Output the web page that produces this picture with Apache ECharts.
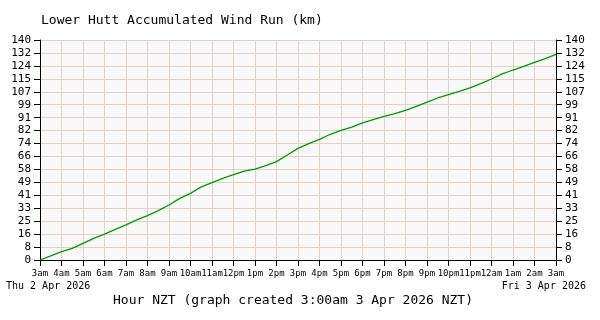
<!DOCTYPE html>
<html>
<head>
<meta charset="utf-8">
<script src="https://cdn.jsdelivr.net/npm/echarts@6/dist/echarts.min.js"></script>
<style>html,body{margin:0;padding:0;background:#fff}#c{width:600px;height:320px}</style>
</head>
<body>
<div id="c"></div>
<script>
var hourLabels = ['3am','4am','5am','6am','7am','8am','9am','10am','11am','12pm','1pm','2pm','3pm','4pm','5pm','6pm','7pm','8pm','9pm','10pm','11pm','12am','1am','2am','3am'];
var hours = [0,0.5,1,1.5,2,2.5,3,3.5,4,4.5,5,5.5,6,6.5,7,7.5,8,8.5,9,9.5,10,10.5,11,11.5,12,12.5,13,13.5,14,14.5,15,15.5,16,16.5,17,17.5,18,18.5,19,19.5,20,20.5,21,21.5,22,22.5,23,23.5,24];
var windRun = [0,2.6,5.3,7.4,10.6,13.8,16.5,19.5,22.3,25.5,28.2,31.4,35.0,39.2,42.4,46.5,49.2,52.0,54.3,56.6,57.9,60.0,62.6,66.8,71.0,74.0,76.8,80.0,82.5,84.6,87.2,89.3,91.4,93.1,95.2,97.8,100.5,103.1,105.2,107.3,109.5,112.2,115.2,118.4,120.9,123.2,125.8,128.1,130.8];
var yMax = 140;
var ySteps = 17;

var FONT = 'DejaVu Sans Mono';
var seriesData = hours.map(function(h, i){ return [h, windRun[i]]; });

function yAxisDef(pos) {
  return {
    type: 'value', position: pos, min: 0, max: yMax, interval: yMax / ySteps,
    axisLine: {show: true, lineStyle: {color: '#000', width: 1}},
    axisTick: {show: true, inside: false, length: 6, lineStyle: {color: '#000', width: 1}},
    axisLabel: {color: '#000', fontFamily: FONT, fontSize: 11, margin: 9,
      formatter: function(v){ return String(Math.round(v)); }},
    splitLine: {show: pos === 'left', lineStyle: {color: '#e6cfc3', width: 1}}
  };
}

var chart = echarts.init(document.getElementById('c'), null, {renderer: 'canvas'});
chart.setOption({
  animation: false,
  backgroundColor: '#ffffff',
  title: {
    text: 'Lower Hutt Accumulated Wind Run (km)', left: 36, top: 9,
    textStyle: {fontFamily: FONT, fontSize: 13, fontWeight: 'normal', color: '#000'}
  },
  grid: {left: 40, right: 44, top: 40, bottom: 60, show: true, backgroundColor: '#f9f9f9', borderWidth: 0},
  xAxis: {
    type: 'value', min: 0, max: 24, interval: 1,
    axisLine: {show: true, onZero: false, lineStyle: {color: '#000', width: 1}},
    axisTick: {show: true, inside: false, length: 6, lineStyle: {color: '#000', width: 1}},
    axisLabel: {color: '#000', fontFamily: FONT, fontSize: 9, margin: 9,
      formatter: function(v){ return hourLabels[Math.round(v)]; }},
    splitLine: {show: true, lineStyle: {color: '#e6cfc3', width: 1}}
  },
  yAxis: [yAxisDef('left'), yAxisDef('right')],
  series: [{
    type: 'line', data: seriesData, yAxisIndex: 0, showSymbol: false, smooth: false,
    lineStyle: {color: '#009a00', width: 1.3}
  }],
  graphic: [
    {type: 'text', left: 6, top: 281, style: {text: 'Thu 2 Apr 2026', fontFamily: FONT, fontSize: 10, fill: '#000'}},
    {type: 'text', right: 14, top: 281, style: {text: 'Fri 3 Apr 2026', fontFamily: FONT, fontSize: 10, fill: '#000'}},
    {type: 'text', left: 113, top: 294, style: {text: 'Hour NZT (graph created 3:00am 3 Apr 2026 NZT)', fontFamily: FONT, fontSize: 13, fill: '#000'}}
  ]
});
</script>
</body>
</html>
